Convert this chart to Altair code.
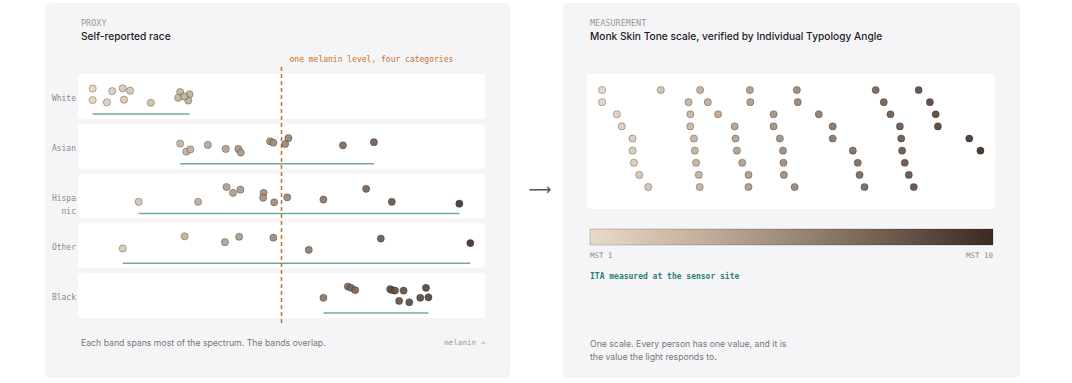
import altair as alt
import pandas as pd

W, H = 1072, 383
SANS = "Inter"
MONO = "DejaVu Sans Mono"

# ---------------- data ----------------
ROWS = ["White", "Asian", "Hispanic", "Other", "Black"]
ROW_LABELS = ["White", "Asian", "Hispa\nnic", "Other", "Black"]

# melanin on a 0-100 axis; jitter = vertical place inside the band (0 top, 1 bottom)
white_mel = [3.6, 3.6, 7.1, 8.4, 11.0, 12.8, 11.3, 17.9, 25.1, 27.4, 24.6, 27.1, 26.1]
white_jit = [0.32, 0.58, 0.63, 0.38, 0.32, 0.37, 0.57, 0.64, 0.40, 0.45, 0.53, 0.59, 0.50]

asian_mel = [25.1, 26.6, 27.6, 31.9, 36.3, 39.4, 40.0, 47.2, 48.0, 51.7, 50.9, 65.1, 72.7]
asian_jit = [0.44, 0.62, 0.57, 0.47, 0.56, 0.56, 0.64, 0.39, 0.42, 0.32, 0.45, 0.48, 0.41]

hisp_mel = [14.9, 29.5, 36.5, 38.1, 39.9, 45.6, 45.5, 48.2, 51.4, 60.3, 70.8, 77.1, 93.7]
hisp_jit = [0.63, 0.63, 0.30, 0.43, 0.36, 0.43, 0.54, 0.64, 0.53, 0.58, 0.34, 0.63, 0.67]

other_mel = [11.0, 26.2, 36.1, 39.6, 48.0, 56.7, 74.4, 96.4]
other_jit = [0.56, 0.29, 0.42, 0.30, 0.32, 0.59, 0.34, 0.44]

black_mel = [60.3, 66.3, 67.1, 68.1, 76.7, 77.2, 77.9, 80.0, 78.9, 81.4, 84.1, 86.1, 85.5]
black_jit = [0.55, 0.30, 0.33, 0.38, 0.36, 0.38, 0.39, 0.39, 0.62, 0.65, 0.55, 0.54, 0.33]

MARKER_MELANIN = [50]

# Monk Skin Tone panel: tone on the 1-10 scale, and the row the dot sits in
mst_tone = [1.27, 1.27, 1.60, 1.71, 1.95, 1.95, 1.98, 2.10, 2.30,
            2.58,
            3.46, 3.20, 3.63, 3.24, 3.86, 3.24, 3.32, 3.34, 3.37, 3.43, 3.45,
            4.57, 4.58, 4.23, 4.25, 4.28, 4.40, 4.54, 4.54,
            5.10, 5.10, 5.24, 5.31, 5.32, 5.33,
            5.62, 5.64, 5.57,
            6.11, 6.42, 6.42, 6.87, 6.98, 7.02, 7.13,
            7.38, 7.56, 7.71, 7.92, 7.95, 7.97, 8.03, 8.12, 8.23,
            8.34, 8.59, 8.72, 8.77,
            9.47, 9.72]
mst_row = [0, 1, 2, 3, 4, 5, 6, 7, 8,
           0,
           0, 1, 1, 2, 2, 3, 4, 5, 6, 7, 8,
           0, 1, 3, 4, 5, 6, 7, 8,
           2, 3, 4, 5, 6, 7,
           0, 1, 8,
           2, 3, 4, 5, 6, 7, 8,
           0, 1, 2, 3, 4, 5, 6, 7, 8,
           0, 1, 2, 3,
           4, 5]
MST_RANGE = [1, 10]
MST_END_LABELS = ["MST 1", "MST 10"]

TONE_COLORS = ["#e9dac8", "#c6b3a0", "#9b8978", "#6c5a4e", "#3b2a21"]

# ---------------- tables ----------------
BAND = 45 / 49.75  # band height as a share of the row step

groups = [white_mel, asian_mel, hisp_mel, other_mel, black_mel]
jits = [white_jit, asian_jit, hisp_jit, other_jit, black_jit]
rows = []
for i, (ms, js) in enumerate(zip(groups, jits)):
    for m, j in zip(ms, js):
        rows.append({"group": ROWS[i], "idx": i, "melanin": m, "ypos": i + j * BAND})
dots = pd.DataFrame(rows)

bands = pd.DataFrame({"group": ROWS, "label": ROW_LABELS, "idx": range(len(ROWS))})
bands["top"] = bands["idx"]
bands["bottom"] = bands["idx"] + BAND
bands["laby"] = bands["idx"] + 0.6 * BAND

mst = pd.DataFrame({"tone": mst_tone, "row": mst_row})
marker = pd.DataFrame({"melanin": MARKER_MELANIN})
bar = pd.DataFrame({"a": [MST_RANGE[0]], "b": [MST_RANGE[1]]})
one = pd.DataFrame({"k": [0]})

# ---------------- scales ----------------
LX = alt.Scale(domain=[0, 100], range=[78, 485])
LY = alt.Scale(domain=[0, 5], range=[74, 74 + 5 * 49.75])
LC = alt.Scale(domain=[0, 25, 50, 75, 100], range=TONE_COLORS)
RX = alt.Scale(domain=[1, 10], range=[590, 993])
RY = alt.Scale(domain=[0, 8], range=[90, 187])
RC = alt.Scale(domain=[1, 3.25, 5.5, 7.75, 10], range=TONE_COLORS)

ORANGE = "#c8702a"


def txt(text, x, y, **kw):
    return alt.Chart(one).mark_text(text=text, **kw).encode(x=alt.value(x), y=alt.value(y))


CARD = "#f5f5f7"
cards = [
    alt.Chart(one).mark_rect(fill=CARD, cornerRadius=5).encode(
        x=alt.value(45), x2=alt.value(510), y=alt.value(3), y2=alt.value(378)),
    alt.Chart(one).mark_rect(fill=CARD, cornerRadius=5).encode(
        x=alt.value(563), x2=alt.value(1020), y=alt.value(3), y2=alt.value(378)),
]

band_rects = alt.Chart(bands).mark_rect(fill="white", cornerRadius=3).encode(
    x=alt.value(78), x2=alt.value(485),
    y=alt.Y("top:Q", scale=LY, axis=None), y2="bottom:Q")

right_box = alt.Chart(one).mark_rect(fill="white", cornerRadius=3).encode(
    x=alt.value(587), x2=alt.value(995), y=alt.value(74), y2=alt.value(209))

ranges = alt.Chart(dots).transform_aggregate(
    lo="min(melanin)", hi="max(melanin)", idx="min(idx)", groupby=["group"]
).transform_calculate(
    ry=f"datum.idx + 0.89 * {BAND}"
).mark_rule(color="#70aaa4", stroke="#70aaa4", strokeWidth=1.6).encode(
    x=alt.X("lo:Q", scale=LX, axis=None), x2="hi:Q",
    y=alt.Y("ry:Q", scale=LY, axis=None))

dash = alt.Chart(marker).mark_rule(color=ORANGE, stroke=ORANGE, strokeDash=[4, 3], strokeWidth=1.5,
                                   strokeOpacity=1).encode(
    x=alt.X("melanin:Q", scale=LX, axis=None), y=alt.value(67), y2=alt.value(325))

annot = alt.Chart(marker).mark_text(
    text="one melanin level, four categories", align="left", baseline="middle",
    dx=8, font=MONO, fontSize=8, color=ORANGE).encode(
    x=alt.X("melanin:Q", scale=LX, axis=None), y=alt.value(60))

dot_style = dict(size=52, opacity=0.92, stroke="#000000", strokeOpacity=0.38, strokeWidth=0.8)

left_dots = alt.Chart(dots).mark_circle(**dot_style).encode(
    x=alt.X("melanin:Q", scale=LX, axis=None),
    y=alt.Y("ypos:Q", scale=LY, axis=None),
    color=alt.Color("melanin:Q", scale=LC, legend=None))

row_labels = alt.Chart(bands).mark_text(
    align="right", baseline="alphabetic", lineBreak="\n", lineHeight=13,
    font=MONO, fontSize=8, color="#8a8a8a").encode(
    x=alt.value(76), y=alt.Y("laby:Q", scale=LY, axis=None), text="label:N")

right_dots = alt.Chart(mst).mark_circle(**dot_style).encode(
    x=alt.X("tone:Q", scale=RX, axis=None),
    y=alt.Y("row:Q", scale=RY, axis=None),
    color=alt.Color("tone:Q", scale=RC, legend=None))

grad = alt.Gradient(
    gradient="linear",
    stops=[alt.GradientStop(offset=i / (len(TONE_COLORS) - 1), color=c) for i, c in enumerate(TONE_COLORS)],
    x1=0, x2=1, y1=0, y2=0)
gradient_bar = alt.Chart(bar).mark_rect(fill=grad, stroke="#000000", strokeOpacity=0.18, strokeWidth=1).encode(
    x=alt.X("a:Q", scale=RX, axis=None), x2="b:Q", y=alt.value(229), y2=alt.value(245))

mst_lo = alt.Chart(pd.DataFrame({"v": [MST_RANGE[0]], "t": [MST_END_LABELS[0]]})).mark_text(
    align="left", baseline="middle", font=MONO, fontSize=7.5, color="#8a8a8a").encode(
    x=alt.X("v:Q", scale=RX, axis=None), y=alt.value(256), text="t:N")
mst_hi = alt.Chart(pd.DataFrame({"v": [MST_RANGE[1]], "t": [MST_END_LABELS[1]]})).mark_text(
    align="right", baseline="middle", font=MONO, fontSize=7.5, color="#8a8a8a").encode(
    x=alt.X("v:Q", scale=RX, axis=None), y=alt.value(256), text="t:N")

texts = [
    txt("PROXY", 81, 23, align="left", baseline="middle", font=MONO, fontSize=8.5, color="#9a9a9a"),
    txt("Self-reported race", 81, 37, align="left", baseline="middle", font=SANS, fontSize=10.2,
        fontWeight=500, color="#1c1c1e"),
    txt("Each band spans most of the spectrum. The bands overlap.", 81, 343, align="left",
        baseline="middle", font=SANS, fontSize=8.7, color="#777777"),
    txt("melanin  \u2192", 485, 343, align="right", baseline="middle", font=MONO, fontSize=7.5,
        color="#9a9a9a"),
    txt("\u27f6", 540, 190, align="center", baseline="middle", font="DejaVu Sans", fontSize=16,
        color="#555555"),
    txt("MEASUREMENT", 590, 23, align="left", baseline="middle", font=MONO, fontSize=8.5, color="#9a9a9a"),
    txt("Monk Skin Tone scale, verified by Individual Typology Angle", 590, 37, align="left",
        baseline="middle", font=SANS, fontSize=10.2, fontWeight=500, color="#1c1c1e"),
    txt("ITA measured at the sensor site", 590, 277, align="left", baseline="middle", font=MONO,
        fontSize=8, fontWeight="bold", color="#2f7d75"),
    txt("One scale. Every person has one value, and it is\nthe value the light responds to.", 590, 346.5,
        align="left", baseline="alphabetic", lineBreak="\n", lineHeight=13, font=SANS, fontSize=8.7,
        color="#777777"),
]

layers = cards + [band_rects, right_box, ranges, dash, annot, left_dots, row_labels,
                  right_dots, gradient_bar, mst_lo, mst_hi] + texts

chart = alt.layer(*layers).resolve_scale(
    x="independent", y="independent", color="independent"
).properties(
    width=W, height=H, padding=0, autosize=alt.AutoSizeParams(type="none"),
    background="white"
).configure_view(stroke=None)

chart.save("out.html", embed_options={"renderer": "svg", "actions": False})
